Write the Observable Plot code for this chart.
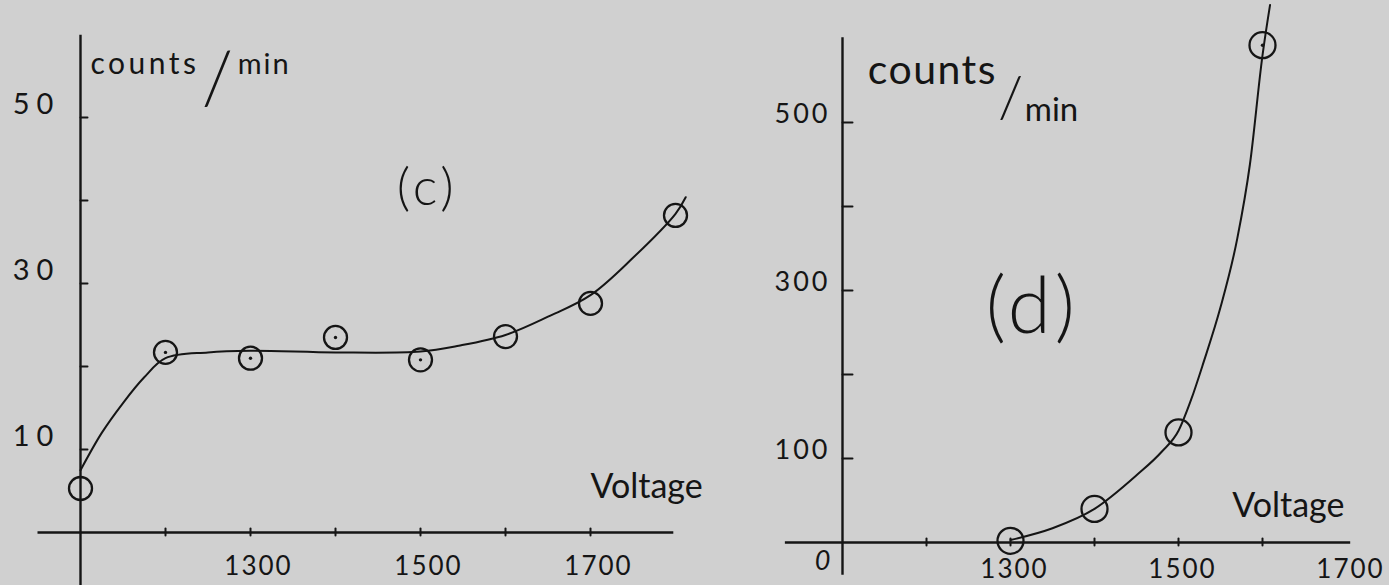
<!DOCTYPE html>
<html>
<head>
<meta charset="utf-8">
<script src="https://cdn.jsdelivr.net/npm/d3@7"></script>
<script src="https://cdn.jsdelivr.net/npm/@observablehq/plot@0.6"></script>
<style>
  html, body { margin: 0; padding: 0; background: #d0d0d0; }
  #fig { position: relative; width: 1389px; height: 585px; overflow: hidden; background: #d0d0d0; }
  #fig svg { position: absolute; top: 0; overflow: visible; }
</style>
</head>
<body>
<div id="fig"></div>
<script>
// ---- Panel (c): plateau curve ----
const voltC = [1100, 1200, 1300, 1400, 1500, 1600, 1700, 1800];
const countsC = [5.3, 21.7, 21.0, 23.5, 20.8, 23.6, 27.6, 38.2];
const dottedC = [false, true, true, true, true, false, false, false];
// hand-drawn smooth curve through the readings
const fitVoltC = [1100, 1125, 1150, 1175, 1200, 1250, 1300, 1400, 1500, 1545, 1600, 1650, 1700, 1750, 1800, 1812];
const fitCountsC = [7.5, 12.0, 15.6, 18.7, 21.0, 21.7, 21.9, 21.7, 21.8, 22.5, 23.8, 26.0, 28.6, 33.1, 38.4, 40.4];
const xTicksC = [1200, 1300, 1400, 1500, 1600, 1700];
const yTicksC = [10, 20, 30, 40, 50];
const xLabelsC = ["1300", "1500", "1700"];
const yLabelsC = ["10", "30", "50"];
const axisXSpanC = [1050, 1798];
const axisYSpanC = [-6.4, 59.9];

// ---- Panel (d): steep rise ----
const voltD = [1300, 1400, 1500, 1600];
const countsD = [2, 40, 131, 592];
const dottedD = [false, false, false, true];
const fitVoltD = [1300, 1350, 1400, 1450, 1480, 1500, 1515, 1530, 1550, 1570, 1585, 1600, 1609];
const fitCountsD = [3, 17, 40, 80, 108, 133, 170, 215, 280, 362, 450, 580, 640];
const xTicksD = [1200, 1300, 1400, 1500, 1600];
const yTicksD = [100, 200, 300, 400, 500];
const xLabelsD = ["1300", "1500", "1700"];
const yLabelsD = ["100", "300", "500"];
const zeroLabelD = ["0"];
const axisXSpanD = [1032, 1705];
const axisYSpanD = [-39, 601];

const ink = "#151515";
const font = "Lato, 'Open Sans', sans-serif";
const tickShape = { draw(context, l) { context.moveTo(0, 0); context.lineTo(0, -l); } };

const ptsC = voltC.map((v, i) => ({ v, c: countsC[i], dot: dottedC[i] }));
const fitC = fitVoltC.map((v, i) => ({ v, c: fitCountsC[i] }));
const ptsD = voltD.map((v, i) => ({ v, c: countsD[i], dot: dottedD[i] }));
const fitD = fitVoltD.map((v, i) => ({ v, c: fitCountsD[i] }));

function note(n) {
  return Plot.text([n], {
    x: "x", y: "y", text: "t", fontSize: n.size, fontWeight: n.weight ?? 400,
    textAnchor: n.anchor, lineAnchor: "bottom", fill: ink
  });
}

// widen the hand-lettered strings after rendering
function spaceText(svg, spacing) {
  d3.select(svg).selectAll("text").each(function () {
    const ls = spacing[this.textContent];
    if (ls != null) this.setAttribute("letter-spacing", ls);
  });
}

function panel(o) {
  const svg = Plot.plot({
    width: o.width, height: 585,
    marginLeft: o.ml, marginRight: o.mr, marginTop: o.mt, marginBottom: o.mb,
    x: { domain: o.xDomain, axis: null },
    y: { domain: o.yDomain, axis: null },
    style: { background: "transparent", fontFamily: font, color: ink, overflow: "visible" },
    marks: [
      // axes
      Plot.ruleY([0], { x1: o.axisX[0], x2: o.axisX[1], stroke: ink, strokeWidth: 2.4 }),
      Plot.ruleX([o.xDomain[0]], { y1: o.axisY[0], y2: o.axisY[1], stroke: ink, strokeWidth: 2.4 }),
      Plot.vector(o.xTicks, { x: d => d, y: 0, length: 7, rotate: 0, anchor: "start", dy: 3, shape: tickShape, stroke: ink, strokeWidth: 2 }),
      Plot.vector(o.yTicks, { x: o.xDomain[0], y: d => d, length: o.yTickLen, rotate: 90, anchor: "start", shape: tickShape, stroke: ink, strokeWidth: 2 }),
      // tick labels
      Plot.text(o.xLabels, { x: d => +d, y: 0, text: d => d, dx: o.xLabelDx, dy: o.xLabelDy, fontSize: 26, fill: ink }),
      Plot.text(o.yLabels, { x: o.xDomain[0], y: d => +d, text: d => d, dx: o.yLabelDx, dy: o.yLabelDy, textAnchor: o.yLabelAnchor, fontSize: o.yLabelSize, fill: ink }),
      ...(o.zeroLabel ? [Plot.text(o.zeroLabel, { x: o.xDomain[0], y: d => +d, text: d => d, dx: -20, dy: 19, fontSize: 27, fontStyle: "italic", fill: ink })] : []),
      // fitted curve and readings
      Plot.line(o.fit, { x: "v", y: "c", curve: o.curve, stroke: ink, strokeWidth: 2 }),
      Plot.dot(o.pts, { x: "v", y: "c", r: o.r, stroke: ink, fill: "none", strokeWidth: 2.3 }),
      Plot.dot(o.pts.filter(d => d.dot), { x: "v", y: "c", r: 1.7, fill: ink, stroke: "none" }),
      // annotations
      ...o.notes.map(note)
    ]
  });
  spaceText(svg, o.spacing);
  return svg;
}

const fig = document.getElementById("fig");

const left = panel({
  width: 694, ml: 80, mr: 19, mt: 117, mb: 53,
  xDomain: [1100, 1800], yDomain: [0, 50],
  axisX: axisXSpanC, axisY: axisYSpanC,
  xTicks: xTicksC, yTicks: yTicksC, yTickLen: 7,
  xLabels: xLabelsC, yLabels: yLabelsC,
  xLabelDx: 8, xLabelDy: 34, yLabelDx: -44, yLabelDy: -13, yLabelAnchor: "middle",
  yLabelSize: 29,
  fit: fitC, pts: ptsC, r: 11.5, curve: "catmull-rom",
  notes: [
    { x: 1111.8, y: 55.3, t: "counts", size: 30, anchor: "start" },
    { x: 1261, y: 51.6, t: "/", size: 72, anchor: "middle", weight: 300 },
    { x: 1285, y: 55.3, t: "min", size: 29, anchor: "start" },
    { x: 1508, y: 39.4, t: "(c)", size: 52, anchor: "middle", weight: 300 },
    { x: 1700, y: 4.1, t: "Voltage", size: 34, anchor: "start" }
  ],
  spacing: { "counts": 3.5, "min": 2, "(c)": 4, "50": 7, "30": 7, "10": 7, "1300": 2, "1500": 2, "1700": 2 }
});
left.style.left = "0px";
fig.appendChild(left);

const right = panel({
  width: 695, ml: 148, mr: 43, mt: 122, mb: 43,
  xDomain: [1100, 1700], yDomain: [0, 500],
  axisX: axisXSpanD, axisY: axisYSpanD,
  xTicks: xTicksD, yTicks: yTicksD, yTickLen: 10,
  xLabels: xLabelsD, yLabels: yLabelsD, zeroLabel: zeroLabelD,
  xLabelDx: 4, xLabelDy: 27, yLabelDx: -12, yLabelDy: -8, yLabelAnchor: "end",
  yLabelSize: 27,
  fit: fitD, pts: ptsD, r: 13, curve: "monotone-x",
  notes: [
    { x: 1130, y: 546, t: "counts", size: 41, anchor: "start" },
    { x: 1300, y: 506, t: "/", size: 58, anchor: "middle", weight: 300 },
    { x: 1317, y: 502, t: "min", size: 33, anchor: "start" },
    { x: 1326, y: 249, t: "(d)", size: 78, anchor: "middle", weight: 300 },
    { x: 1564, y: 30, t: "Voltage", size: 34, anchor: "start" }
  ],
  spacing: { "counts": 1.5, "(d)": 4, "500": 3, "300": 3, "100": 3, "1300": 2, "1500": 2, "1700": 2 }
});
right.style.left = "694px";
fig.appendChild(right);
</script>
</body>
</html>
